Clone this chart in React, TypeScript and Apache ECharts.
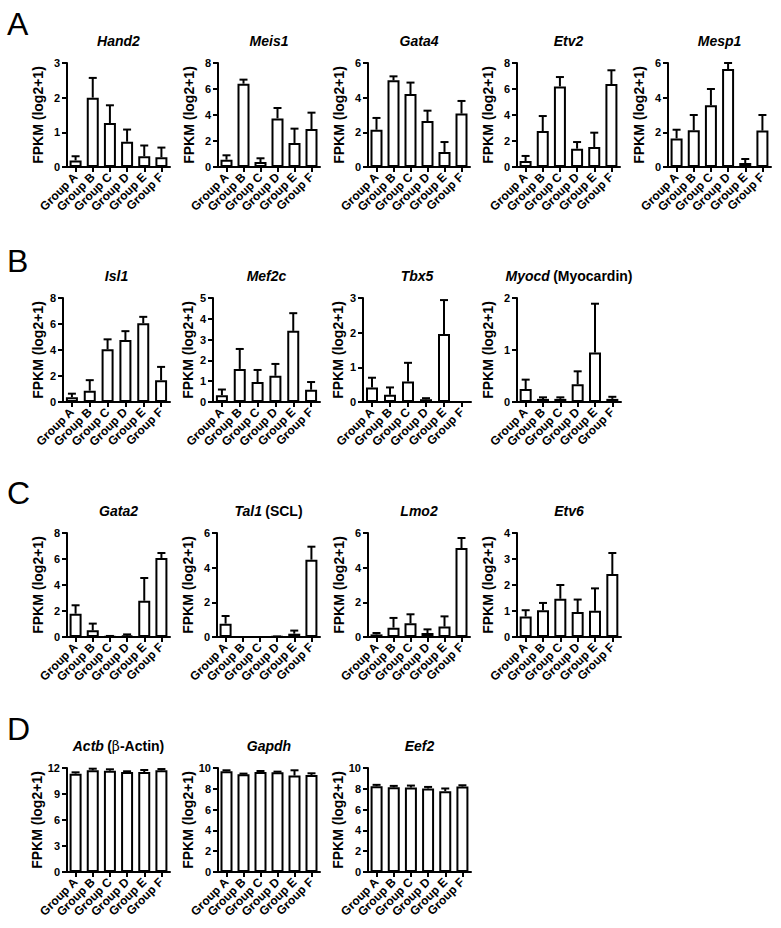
import React, { useEffect, useRef } from "react";
import * as echarts from "echarts";

const groups = ["Group A", "Group B", "Group C", "Group D", "Group E", "Group F"];

// Panel A
const hand2Mean = [0.19, 2.0, 1.27, 0.73, 0.31, 0.28];
const hand2Top = [0.31, 2.57, 1.78, 1.08, 0.62, 0.56];
const meis1Mean = [0.56, 6.41, 0.38, 3.74, 1.85, 2.92];
const meis1Top = [0.9, 6.72, 0.67, 4.54, 2.95, 4.18];
const gata4Mean = [2.15, 5.0, 4.21, 2.65, 0.87, 3.08];
const gata4Top = [2.83, 5.23, 4.87, 3.25, 1.44, 3.81];
const etv2Mean = [0.46, 2.77, 6.2, 1.41, 1.54, 6.38];
const etv2Top = [0.85, 3.92, 6.92, 1.92, 2.64, 7.44];
const mesp1Mean = [1.65, 2.12, 3.56, 5.65, 0.23, 2.1];
const mesp1Top = [2.15, 3.0, 4.5, 6.0, 0.46, 3.0];

// Panel B
const isl1Mean = [0.36, 0.87, 4.05, 4.76, 6.06, 1.68];
const isl1Top = [0.64, 1.68, 4.82, 5.45, 6.55, 2.7];
const mef2cMean = [0.33, 1.59, 0.96, 1.26, 3.42, 0.59];
const mef2cTop = [0.6, 2.55, 1.54, 1.83, 4.27, 0.96];
const tbx5Mean = [0.42, 0.21, 0.59, 0.08, 1.96, 0];
const tbx5Top = [0.7, 0.42, 1.13, 0.11, 2.94, 0];
const myocdMean = [0.25, 0.06, 0.06, 0.34, 0.95, 0.06];
const myocdTop = [0.43, 0.09, 0.09, 0.59, 1.89, 0.1];

// Panel C
const gata2Mean = [1.79, 0.51, 0.05, 0.1, 2.79, 6.08];
const gata2Top = [2.44, 1.03, 0.08, 0.2, 4.54, 6.46];
const tal1Mean = [0.77, 0, 0, 0.02, 0.19, 4.46];
const tal1Top = [1.21, 0, 0, 0.03, 0.37, 5.21];
const lmo2Mean = [0.15, 0.54, 0.79, 0.23, 0.6, 5.13];
const lmo2Top = [0.23, 1.1, 1.31, 0.44, 1.19, 5.71];
const etv6Mean = [0.79, 1.03, 1.47, 0.96, 1.01, 2.42];
const etv6Top = [1.03, 1.31, 2.0, 1.44, 1.87, 3.23];

// Panel D
const actbMean = [11.35, 11.73, 11.69, 11.54, 11.54, 11.73];
const actbTop = [11.5, 11.92, 11.85, 11.62, 11.77, 11.88];
const gapdhMean = [9.68, 9.39, 9.62, 9.59, 9.27, 9.33];
const gapdhTop = [9.78, 9.46, 9.71, 9.65, 9.78, 9.49];
const eef2Mean = [8.25, 8.15, 8.12, 8.03, 7.77, 8.22];
const eef2Top = [8.38, 8.28, 8.31, 8.18, 8.03, 8.34];

const yName = "FPKM (log2+1)";
const panelLetters = ["A", "B", "C", "D"];

const panels = [
  { title: "{i|Hand2}", mean: hand2Mean, top: hand2Top, max: 3, step: 1 },
  { title: "{i|Meis1}", mean: meis1Mean, top: meis1Top, max: 8, step: 2 },
  { title: "{i|Gata4}", mean: gata4Mean, top: gata4Top, max: 6, step: 2 },
  { title: "{i|Etv2}", mean: etv2Mean, top: etv2Top, max: 8, step: 2 },
  { title: "{i|Mesp1}", mean: mesp1Mean, top: mesp1Top, max: 6, step: 2 },
  { title: "{i|Isl1}", mean: isl1Mean, top: isl1Top, max: 8, step: 2 },
  { title: "{i|Mef2c}", mean: mef2cMean, top: mef2cTop, max: 5, step: 1 },
  { title: "{i|Tbx5}", mean: tbx5Mean, top: tbx5Top, max: 3, step: 1 },
  { title: "{i|Myocd} {n|(Myocardin)}", mean: myocdMean, top: myocdTop, max: 2, step: 1 },
  { title: "{i|Gata2}", mean: gata2Mean, top: gata2Top, max: 8, step: 2 },
  { title: "{i|Tal1} {n|(SCL)}", mean: tal1Mean, top: tal1Top, max: 6, step: 2 },
  { title: "{i|Lmo2}", mean: lmo2Mean, top: lmo2Top, max: 6, step: 2 },
  { title: "{i|Etv6}", mean: etv6Mean, top: etv6Top, max: 4, step: 1 },
  { title: "{i|Actb} {n|(}{g|β}{n|-Actin)}", mean: actbMean, top: actbTop, max: 12, step: 3 },
  { title: "{i|Gapdh}", mean: gapdhMean, top: gapdhTop, max: 10, step: 2 },
  { title: "{i|Eef2}", mean: eef2Mean, top: eef2Top, max: 10, step: 2 },
];

// layout (pixels)
const layout = [
  { left: 67, top: 63, width: 103, gap: 22 },
  { left: 218, top: 63, width: 102, gap: 22 },
  { left: 368, top: 63, width: 102, gap: 22 },
  { left: 517, top: 63, width: 103, gap: 22 },
  { left: 668, top: 63, width: 103, gap: 22 },
  { left: 63, top: 298, width: 107, gap: 18 },
  { left: 213, top: 298, width: 107, gap: 18 },
  { left: 363, top: 298, width: 108, gap: 18 },
  { left: 517, top: 298, width: 104, gap: 22 },
  { left: 67, top: 533, width: 103, gap: 22 },
  { left: 217, top: 533, width: 103, gap: 22 },
  { left: 368, top: 533, width: 102, gap: 22 },
  { left: 517, top: 533, width: 104, gap: 22 },
  { left: 67, top: 768, width: 103, gap: 22 },
  { left: 218, top: 768, width: 102, gap: 22 },
  { left: 368, top: 768, width: 103, gap: 22 },
];
const plotHeight = 104;
const titleY = [41, 41, 41, 41, 41, 276, 276, 276, 276, 511, 511, 511, 511, 746, 746, 746];
const letterY = [8, 245, 477, 713];

const FONT = "'Liberation Sans', Arial, Helvetica, sans-serif";

export default function App() {
  const ref = useRef<HTMLDivElement>(null);
  useEffect(() => {
    if (!ref.current) return;
    const chart = echarts.init(ref.current, null, { renderer: "svg" });
    const grid: any[] = [];
    const xAxis: any[] = [];
    const yAxis: any[] = [];
    const series: any[] = [];
    const graphic: any[] = [];

    panels.forEach((p, i) => {
      const L = layout[i];
      grid.push({
        left: L.left,
        top: L.top,
        width: L.width,
        height: plotHeight,
        containLabel: false,
        outerBoundsMode: "none",
      });
      xAxis.push({
        type: "category",
        gridIndex: i,
        data: groups,
        axisLine: { show: true, lineStyle: { color: "#000", width: 2 } },
        axisTick: { show: true, alignWithLabel: true, interval: 0, length: 5, lineStyle: { color: "#000", width: 2 } },
        axisLabel: {
          rotate: 45,
          interval: 0,
          margin: 8,
          color: "#000",
          fontWeight: "bold",
          fontSize: 12,
          fontFamily: FONT,
        },
        splitLine: { show: false },
      });
      yAxis.push({
        type: "value",
        gridIndex: i,
        min: 0,
        max: p.max,
        interval: p.step,
        axisLine: { show: true, lineStyle: { color: "#000", width: 2 } },
        axisTick: { show: true, length: 5, lineStyle: { color: "#000", width: 2 } },
        axisLabel: { color: "#000", fontWeight: "bold", fontSize: 11, margin: 7, fontFamily: FONT },
        splitLine: { show: false },
        name: yName,
        nameLocation: "middle",
        nameGap: L.gap,
        nameTextStyle: { color: "#000", fontWeight: "bold", fontSize: 14, fontFamily: FONT },
      });
      series.push({
        type: "bar",
        xAxisIndex: i,
        yAxisIndex: i,
        data: p.mean,
        barWidth: 12,
        itemStyle: { color: "#fff", borderColor: "#000", borderWidth: 2 },
        z: 2,
      });
      series.push({
        type: "custom",
        xAxisIndex: i,
        yAxisIndex: i,
        z: 3,
        clip: false,
        data: p.mean.map((m, k) => [k, m, p.top[k]]),
        renderItem: (params: any, api: any) => {
          const x = api.value(0);
          const m = api.value(1);
          const t = api.value(2);
          if (!(t > m)) return null;
          const a = api.coord([x, m]);
          const b = api.coord([x, t]);
          return {
            type: "group",
            children: [
              { type: "line", shape: { x1: a[0], y1: a[1], x2: b[0], y2: b[1] }, style: { stroke: "#000", lineWidth: 2 } },
              { type: "line", shape: { x1: b[0] - 4, y1: b[1], x2: b[0] + 4, y2: b[1] }, style: { stroke: "#000", lineWidth: 2 } },
            ],
          };
        },
      });
      graphic.push({
        type: "text",
        x: L.left + L.width / 2,
        y: titleY[i],
        style: {
          text: p.title,
          align: "center",
          verticalAlign: "middle",
          fill: "#000",
          rich: {
            i: { fontStyle: "italic", fontWeight: "bold", fontSize: 14, fontFamily: FONT, fill: "#000" },
            n: { fontWeight: "bold", fontSize: 14, fontFamily: FONT, fill: "#000" },
            g: { fontWeight: "normal", fontSize: 14, fontFamily: "'DejaVu Serif', serif", fill: "#000" },
          },
        },
      });
    });

    panelLetters.forEach((t, k) => {
      graphic.push({
        type: "text",
        x: 7,
        y: letterY[k],
        style: { text: t, fill: "#000", fontSize: 32, fontFamily: FONT, verticalAlign: "top", align: "left" },
      });
    });

    chart.setOption({
      animation: false,
      backgroundColor: "#fff",
      grid,
      xAxis,
      yAxis,
      series,
      graphic,
    });
    return () => chart.dispose();
  }, []);
  return <div ref={ref} style={{ position: "fixed", left: 0, top: 0, width: 781, height: 928 }} />;
}
